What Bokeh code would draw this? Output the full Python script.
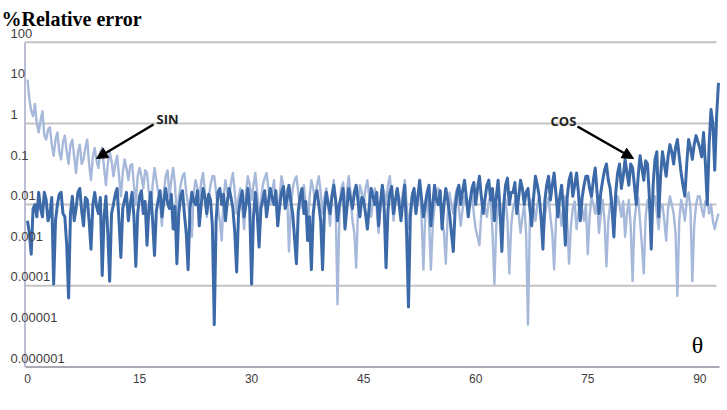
from bokeh.plotting import figure
from bokeh.models import Range1d, Arrow, NormalHead, ColumnDataSource
from bokeh.core.properties import value
from bokeh.embed import file_html
from bokeh.resources import INLINE

# ---------------- data, one value every 0.25 deg ----------------
cos_err = [
    4e-3, 2e-3, 6e-4, 8e-3, 1e-2, 5e-3, 2e-2, 8e-3, 5e-3, 2e-2, 1.3e-2, 4e-3, 6e-3, 1.5e-2, 1.1e-4, 4e-3, 1e-2, 1.8e-2, 2e-2, 6e-3,
    5e-3, 1e-3, 5e-5, 6e-3, 1.6e-2, 4e-3, 8e-3, 2e-2, 2.5e-2, 7e-3, 3e-3, 1.5e-2, 1.3e-2, 4e-3, 8e-4, 1e-2, 2e-2, 9e-3, 6e-3, 1.5e-2,
    1.8e-4, 5e-3, 1.6e-2, 2e-3, 1.3e-4, 6e-3, 1e-2, 1.8e-2, 2.5e-2, 4e-3, 5e-4, 8e-3, 1.3e-2, 2e-2, 4e-3, 1e-2, 2e-2, 5e-3, 3e-4, 6e-3,
    1.6e-2, 2.2e-2, 6e-3, 1.2e-2, 1e-3, 8e-3, 2e-2, 4e-3, 5.6e-4, 7e-3, 1.3e-2, 2.2e-2, 5e-3, 1.2e-2, 2.5e-2, 1.1e-2, 8e-3, 1.8e-2, 2.5e-3, 9e-3,
    3.5e-4, 6e-3, 1.6e-2, 2.2e-2, 6e-3, 2e-3, 2.5e-4, 8e-3, 2e-2, 1.2e-2, 1e-2, 2.2e-2, 3e-3, 1e-2, 2.5e-2, 1.5e-2, 6e-3, 1.8e-2, 1.3e-2, 3e-3,
    1.1e-5, 4e-3, 2e-2, 2.5e-2, 1e-2, 1.8e-2, 4e-3, 1.2e-2, 2.5e-2, 1.5e-2, 8e-3, 2e-3, 2.2e-4, 6e-3, 1.3e-2, 2.2e-2, 5e-3, 1e-2, 2.5e-2, 8e-3,
    1.1e-4, 5e-3, 2e-2, 6e-3, 9e-4, 8e-3, 1.3e-2, 2.2e-2, 5e-3, 1.2e-2, 2.5e-2, 1.5e-2, 1e-2, 2.2e-2, 3e-3, 9e-3, 2e-2, 2.8e-2, 8e-3, 1.4e-2,
    3e-2, 1.2e-2, 6e-3, 1.5e-3, 3.5e-4, 7e-3, 1.6e-2, 2.5e-2, 6e-3, 1.2e-2, 1.3e-3, 5e-3, 2.5e-4, 6e-3, 1.6e-2, 2.2e-2, 1e-2, 4e-3, 2.5e-4, 7e-3,
    2e-2, 1.1e-2, 6e-3, 1.6e-2, 3e-2, 1.3e-2, 4e-3, 1e-2, 1.6e-2, 2.5e-2, 2.5e-3, 8e-3, 2.5e-2, 1.4e-2, 8e-3, 2e-2, 3e-2, 1.2e-2, 5e-3, 1.5e-2,
    1.3e-2, 6e-3, 2.5e-3, 9e-3, 2.5e-2, 1.6e-2, 1e-2, 2e-2, 3e-3, 1.1e-2, 3e-2, 8e-3, 2.8e-4, 7e-3, 2e-2, 2.8e-2, 6e-3, 1.3e-2, 2.5e-2, 1e-2,
    4e-3, 1.2e-2, 3e-2, 2e-3, 3e-5, 5e-3, 1.6e-2, 2.5e-2, 6e-3, 1.5e-2, 4e-2, 1.4e-2, 5e-3, 1e-2, 2e-2, 3e-2, 3e-3, 1e-2, 3e-2, 1.3e-2,
    1e-2, 2.2e-2, 2.5e-3, 1e-2, 2.5e-2, 1.3e-2, 6e-3, 2e-3, 7e-4, 8e-3, 2e-2, 3e-2, 1e-2, 2.2e-2, 4e-2, 1.5e-2, 5e-3, 1.2e-2, 2.5e-2, 3.5e-2,
    1e-2, 2.5e-2, 5e-2, 1.6e-2, 6e-3, 1.4e-2, 3e-2, 4e-2, 1.3e-2, 2.5e-2, 4e-3, 1.5e-2, 4e-2, 8e-3, 7e-4, 1e-2, 3e-2, 4.5e-2, 1e-2, 2e-2,
    2e-2, 3.5e-2, 6e-3, 1.5e-2, 4e-2, 2.5e-2, 1e-2, 2e-2, 2.5e-2, 8e-3, 3e-3, 1.5e-2, 5e-2, 3e-2, 1.6e-2, 5e-3, 8e-4, 1.2e-2, 3e-2, 5e-2,
    1.3e-2, 3e-2, 6e-2, 1.8e-2, 5e-3, 1.5e-2, 3e-2, 8e-3, 1e-3, 1.5e-2, 4e-2, 6e-2, 1.6e-2, 3e-2, 6e-2, 2e-2, 4e-3, 1.5e-2, 3e-2, 5e-2,
    5e-2, 2.5e-2, 1.6e-2, 4e-2, 8e-2, 2e-2, 6e-3, 2e-2, 4e-2, 7e-2, 0.1, 4e-2, 2.5e-2, 8e-3, 1.6e-3, 2e-2, 6e-2, 0.1, 2.5e-2, 5e-2,
    0.13, 6e-2, 3e-2, 0.1, 8e-2, 3e-2, 1e-2, 5e-2, 0.16, 0.08, 4e-2, 0.12, 0.1, 1.5e-2, 8e-4, 3e-2, 0.13, 0.2, 5e-3, 0.05,
    0.2, 0.1, 5e-2, 0.15, 0.3, 0.2, 0.1, 0.25, 0.4, 0.15, 6e-2, 0.03, 1.6e-2, 0.1, 0.4, 0.25, 0.13, 0.3, 0.5, 0.35,
    0.25, 0.15, 0.6, 0.1, 1e-2, 0.3, 2.2, 1.0, 7e-2, 1.5, 10,
]

sin_err = [
    12, 4, 2, 1.5, 3, 1, 0.6, 1.2, 2, 0.5, 0.4, 0.7, 0.8, 0.3, 0.16, 0.4, 0.6, 0.2, 0.13, 0.35,
    0.5, 0.2, 0.1, 0.3, 0.4, 0.15, 0.06, 0.2, 0.3, 0.1, 0.13, 0.25, 0.4, 0.1, 0.04, 0.15, 0.25, 0.12, 0.08, 0.2,
    0.25, 0.08, 0.03, 0.1, 0.2, 0.12, 0.05, 0.1, 0.16, 0.05, 0.016, 0.06, 0.13, 0.08, 0.04, 0.09, 0.1, 0.03, 0.01, 0.05,
    0.08, 0.05, 0.025, 0.07, 0.06, 0.02, 0.006, 0.03, 0.08, 0.04, 0.02, 0.01, 0.003, 0.02, 0.05, 0.07, 0.016, 0.04, 0.08, 0.03,
    0.004, 0.015, 0.03, 0.05, 0.06, 0.02, 0.01, 0.005, 0.0016, 0.02, 0.04, 0.025, 0.013, 0.035, 0.06, 0.02, 0.005, 0.015, 0.03, 0.05,
    0.05, 0.02, 0.008, 0.004, 0.0013, 0.015, 0.04, 0.02, 0.016, 0.035, 0.06, 0.02, 0.006, 0.015, 0.025, 0.008, 0.0025, 0.02, 0.05, 0.03,
    0.013, 0.03, 0.06, 0.02, 0.004, 0.012, 0.03, 0.045, 0.06, 0.025, 0.01, 0.02, 0.04, 0.01, 0.003, 0.015, 0.05, 0.03, 0.013, 0.025,
    7e-4, 0.008, 0.025, 0.04, 0.05, 0.02, 0.008, 0.015, 0.03, 0.01, 0.002, 0.015, 0.04, 0.025, 0.013, 0.03, 0.05, 0.02, 0.006, 0.015,
    0.025, 0.01, 0.003, 0.015, 0.04, 0.01, 3.5e-5, 0.005, 0.025, 0.035, 0.008, 0.02, 0.05, 0.02, 0.004, 0.002, 2.8e-4, 0.008, 0.03, 0.02,
    0.01, 0.025, 0.04, 0.015, 0.005, 0.012, 0.025, 0.008, 0.002, 0.01, 0.03, 0.02, 0.01, 0.03, 0.05, 0.015, 0.004, 0.012, 0.025, 0.015,
    0.008, 0.02, 0.04, 0.01, 0.0025, 0.008, 0.02, 0.012, 0.006, 0.018, 0.03, 0.005, 2.5e-4, 0.006, 0.016, 0.004, 2.5e-4, 0.003, 0.01, 0.02,
    0.025, 0.012, 0.004, 0.002, 3.5e-4, 0.006, 0.02, 0.01, 0.006, 0.015, 0.025, 0.008, 0.003, 0.008, 0.016, 0.01, 0.008, 0.014, 0.02, 0.006,
    0.0025, 0.0016, 0.001, 0.006, 0.013, 0.008, 0.005, 0.012, 0.016, 0.002, 1.1e-4, 0.003, 0.01, 0.005, 0.0025, 0.008, 0.013, 0.004, 2e-4, 0.003,
    0.008, 0.012, 0.016, 0.006, 0.002, 0.005, 0.01, 0.002, 1.1e-5, 0.004, 0.013, 0.008, 0.004, 0.01, 0.016, 0.006, 0.0016, 0.005, 0.01, 0.015,
    0.005, 0.002, 2.5e-4, 0.004, 0.013, 0.007, 0.003, 0.01, 0.016, 0.004, 3.5e-4, 0.003, 0.008, 0.012, 0.0025, 0.006, 0.013, 0.008, 0.004, 0.01,
    6e-4, 0.005, 0.016, 0.01, 0.006, 0.012, 0.002, 0.006, 0.013, 0.004, 3e-4, 0.004, 0.01, 0.015, 0.0025, 0.008, 0.016, 0.01, 0.005, 0.012,
    0.0016, 0.006, 0.013, 0.003, 1.3e-4, 0.004, 0.01, 0.015, 0.004, 0.001, 2e-4, 0.005, 0.013, 0.008, 0.005, 0.012, 0.016, 0.006, 0.0025, 0.01,
    0.01, 0.004, 0.0013, 0.008, 0.016, 0.01, 0.006, 0.002, 5.6e-5, 0.004, 0.013, 0.008, 0.004, 0.012, 0.02, 0.008, 1.3e-4, 0.003, 0.01, 0.016,
    0.016, 0.008, 0.005, 0.012, 0.013, 0.006, 0.01, 0.004, 0.0025, 0.004, 0.006,
]

THETA_STEP = 0.25  # degrees between successive values
N = min(len(cos_err), len(sin_err))
theta = [THETA_STEP * i for i in range(N)]

y_ticks = [100, 10, 1, 0.1, 0.01, 0.001, 0.0001, 0.00001, 0.000001]
y_tick_labels = ["100", "10", "1", "0.1", "0.01", "0.001", "0.0001", "0.00001", "0.000001"]
grid_values = [100, 1, 0.01, 0.0001]
x_ticks = [0, 15, 30, 45, 60, 75, 90]
x_tick_labels = ["0", "15", "30", "45", "60", "75", "90"]

# ---------------- layout helpers (pixel -> data) ----------------
W, H = 727, 410
X0PX, PXDEG = 27.0, 7.47      # pixel of 0 deg, pixels per degree
Y100PX, PXDEC = 41.7, 40.6    # pixel of 100, pixels per decade


def px2x(px):
    return (px - X0PX) / PXDEG


def px2y(py):
    return 10 ** (2 - (py - Y100PX) / PXDEC)


p = figure(width=W, height=H, y_axis_type="log",
           x_range=Range1d(px2x(0), px2x(W)),
           y_range=Range1d(px2y(H), px2y(0)),
           x_axis_location=None, y_axis_location=None,
           toolbar_location=None, output_backend="svg",
           min_border=0, min_border_left=0, min_border_right=0,
           min_border_top=0, min_border_bottom=0)
p.grid.visible = False
p.outline_line_color = None
p.background_fill_color = "white"
p.border_fill_color = "white"

# grid lines (every second decade)
xl, xr = px2x(25), px2x(716)
p.segment(x0=[xl] * len(grid_values), x1=[xr] * len(grid_values),
          y0=grid_values, y1=grid_values, line_color="#C4C4C4", line_width=2)

# axis lines
p.segment(x0=[xl], x1=[px2x(719)], y0=[y_ticks[-1]], y1=[y_ticks[-1]],
          line_color="#A9A9B4", line_width=2)
p.segment(x0=[px2x(24.5)], x1=[px2x(24.5)], y0=[y_ticks[-1]], y1=[y_ticks[0]],
          line_color="#A4A8C6", line_width=1.5)

# series
src = ColumnDataSource(dict(theta=theta, sin=sin_err[:N], cos=cos_err[:N]))
p.line("theta", "sin", source=src, line_color="#A7B9DA", line_width=2.4,
       line_join="round")
p.line("theta", "cos", source=src, line_color="#3C69A8", line_width=3.0,
       line_join="round")

# y tick labels (drawn over the plot edge, as in the original)
p.text(x=[px2x(10)] * len(y_ticks), y=y_ticks, text=y_tick_labels,
       text_font=value("Liberation Sans"), text_font_size="13px",
       text_color="#404040", text_align="left", text_baseline="middle",
       y_offset=-9)

# x tick labels
p.text(x=x_ticks, y=[y_ticks[-1]] * len(x_ticks), text=x_tick_labels,
       text_font=value("Liberation Sans"), text_font_size="12px",
       text_color="#404040", text_align="center", text_baseline="middle",
       y_offset=11)

# title
p.text(x=[px2x(1)], y=[px2y(18)], text=["%Relative error"],
       text_font=value("Liberation Serif"), text_font_style="bold",
       text_font_size="20px", text_color="black",
       text_align="left", text_baseline="alphabetic")

# theta symbol
p.text(x=[px2x(697)], y=[px2y(344)], text=["θ"],
       text_font=value("Liberation Serif"), text_font_size="24px",
       text_color="black", text_align="center", text_baseline="middle")

# SIN / COS annotations
p.text(x=[px2x(156), px2x(550)], y=[px2y(118), px2y(120)], text=["SIN", "COS"],
       text_font=value("Open Sans"), text_font_style="bold",
       text_font_size="13px", text_color="#222222",
       text_align="left", text_baseline="middle")

p.add_layout(Arrow(end=NormalHead(size=11, fill_color="black", line_color="black"),
                   x_start=px2x(153), y_start=px2y(124),
                   x_end=px2x(96), y_end=px2y(158),
                   line_color="black", line_width=2.5))
p.add_layout(Arrow(end=NormalHead(size=11, fill_color="black", line_color="black"),
                   x_start=px2x(577), y_start=px2y(126),
                   x_end=px2x(633), y_end=px2y(158),
                   line_color="black", line_width=2.5))

open("out.html", "w").write(file_html(p, INLINE))
